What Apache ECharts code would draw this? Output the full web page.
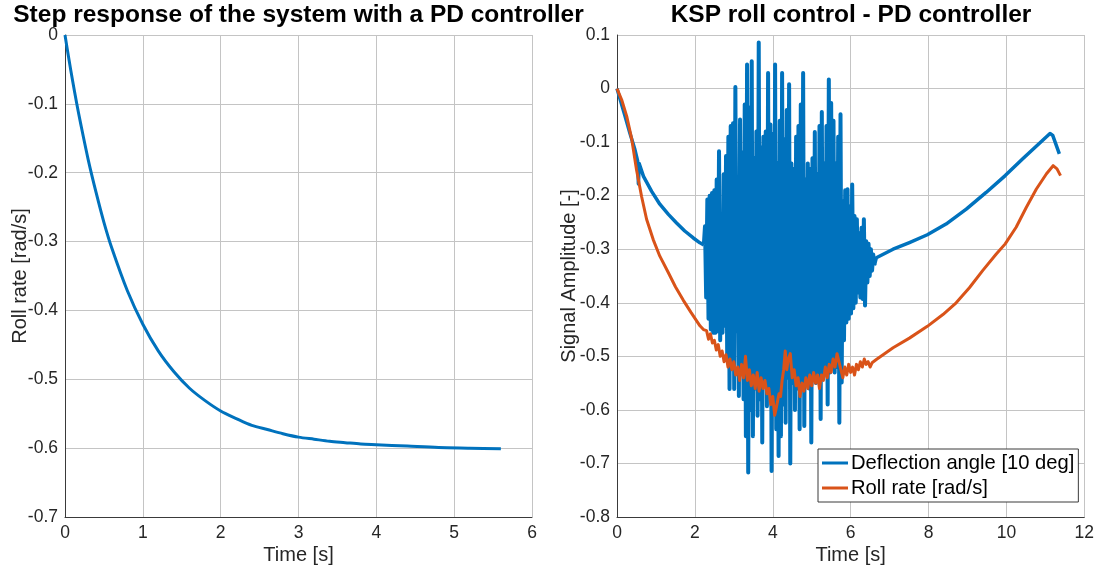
<!DOCTYPE html>
<html>
<head>
<meta charset="utf-8">
<script src="https://cdn.jsdelivr.net/npm/echarts@6/dist/echarts.min.js"></script>
<style>html,body{margin:0;padding:0;background:#fff}#c{width:1097px;height:572px}</style>
</head>
<body>
<div id="c"></div>
<script>
// ---- Left panel: step response ----
const stepTime  = [0, 0.05, 0.1, 0.15, 0.2, 0.3, 0.4, 0.5, 0.6, 0.8, 1.0, 1.2, 1.4, 1.6, 1.8, 2.0, 2.2, 2.4, 2.6, 2.8, 3.0, 3.2, 3.4, 3.6, 3.8, 4.0, 4.4, 4.8, 5.2, 5.6];
const stepValue = [0, -0.035, -0.068, -0.099, -0.128, -0.182, -0.229, -0.272, -0.309, -0.371, -0.420, -0.459, -0.489, -0.513, -0.531, -0.546, -0.557, -0.567, -0.573, -0.579, -0.584, -0.587, -0.590, -0.592, -0.594, -0.595, -0.597, -0.599, -0.600, -0.601];

// ---- Right panel: deflection angle ----
const deflPreTime  = [0, 0.08, 0.2, 0.33, 0.46, 0.53, 0.55, 0.57, 0.68, 0.89, 1.10, 1.32, 1.53, 1.74, 1.96, 2.13, 2.23];
const deflPreValue = [0, -0.02, -0.05, -0.083, -0.114, -0.135, -0.178, -0.14, -0.164, -0.192, -0.216, -0.235, -0.251, -0.266, -0.279, -0.288, -0.292];
// oscillating part: peaks sampled every 0.06 s from 2.26 s, troughs 0.03 s after each peak
const oscStart = 2.26, oscStep = 0.06;
const oscUpper = [-0.257,-0.207,-0.20,-0.195,-0.19,-0.17,-0.117,-0.24,-0.16,-0.126,-0.09,-0.07,-0.065,0.003,-0.2,-0.058,-0.12,-0.03,0.045,-0.036,0.051,-0.13,-0.08,0.086,-0.11,-0.09,-0.08,0.029,-0.067,-0.085,0.045,-0.14,-0.06,0.029,-0.095,-0.04,0.008,-0.14,-0.15,-0.09,-0.07,-0.03,0.029,-0.17,-0.14,-0.15,-0.13,-0.081,-0.16,-0.07,-0.044,-0.14,-0.07,0.017,-0.027,-0.06,-0.14,-0.09,-0.048,-0.21,-0.19,-0.188,-0.22,-0.179,-0.238,-0.244,-0.27,-0.26,-0.244,-0.285,-0.29,-0.30,-0.31];
const oscLower = [-0.39,-0.43,-0.45,-0.456,-0.456,-0.453,-0.47,-0.456,-0.443,-0.50,-0.561,-0.52,-0.561,-0.453,-0.574,-0.524,-0.58,-0.649,-0.717,-0.60,-0.649,-0.56,-0.611,-0.58,-0.661,-0.55,-0.593,-0.56,-0.714,-0.60,-0.636,-0.686,-0.649,-0.59,-0.624,-0.54,-0.70,-0.55,-0.60,-0.56,-0.636,-0.55,-0.63,-0.54,-0.56,-0.661,-0.54,-0.55,-0.53,-0.617,-0.54,-0.53,-0.59,-0.53,-0.52,-0.53,-0.52,-0.624,-0.549,-0.47,-0.437,-0.43,-0.42,-0.41,-0.40,-0.381,-0.39,-0.393,-0.405,-0.362,-0.35,-0.34,-0.33];
const deflPostTime  = [6.66, 7.09, 7.51, 7.97, 8.45, 8.97, 9.48, 9.97, 10.42, 10.85, 11.12, 11.19, 11.36];
const deflPostValue = [-0.316, -0.30, -0.2875, -0.273, -0.253, -0.225, -0.194, -0.1625, -0.131, -0.102, -0.084, -0.0875, -0.122];

// ---- Right panel: roll rate ----
const rollTime = [0, 0.12, 0.25, 0.38, 0.50, 0.63, 0.76, 0.93, 1.10, 1.32, 1.5, 1.7, 1.9, 2.13, 2.22,
  2.30, 2.35, 2.40, 2.45, 2.50, 2.55, 2.60, 2.65, 2.70, 2.75, 2.80, 2.85, 2.90, 2.95, 3.00, 3.05, 3.10, 3.15, 3.20, 3.25, 3.30, 3.35, 3.40, 3.45, 3.50, 3.55, 3.60, 3.65, 3.70, 3.75, 3.80, 3.85, 3.90, 3.95, 4.00, 4.05, 4.08, 4.12, 4.16, 4.20, 4.24, 4.28, 4.32, 4.36, 4.40, 4.45, 4.50, 4.55, 4.60, 4.65, 4.70, 4.75, 4.80, 4.85, 4.90, 4.95, 5.00, 5.05, 5.10, 5.15, 5.20, 5.25, 5.30, 5.35, 5.40, 5.45, 5.50, 5.55, 5.60, 5.65, 5.70, 5.75, 5.80, 5.85, 5.90, 5.95, 6.00, 6.05, 6.10, 6.15, 6.20, 6.25, 6.30, 6.35, 6.40, 6.45, 6.50, 6.55, 6.60,
  6.66, 7.09, 7.51, 7.97, 8.37, 8.71, 9.05, 9.39, 9.74, 9.97, 10.25, 10.51, 10.77, 11.03, 11.2, 11.3, 11.39];
const rollValue = [0, -0.021, -0.052, -0.095, -0.151, -0.201, -0.244, -0.282, -0.313, -0.344, -0.37, -0.395, -0.418, -0.443, -0.45,
  -0.452, -0.468, -0.458, -0.475, -0.47, -0.488, -0.478, -0.50, -0.49, -0.51, -0.497, -0.52, -0.505, -0.525, -0.51, -0.535, -0.52, -0.545, -0.515, -0.54, -0.50, -0.545, -0.525, -0.555, -0.535, -0.56, -0.53, -0.565, -0.54, -0.56, -0.545, -0.57, -0.56, -0.59, -0.575, -0.61, -0.60, -0.585, -0.57, -0.575, -0.545, -0.525, -0.49, -0.525, -0.505, -0.495, -0.54, -0.525, -0.555, -0.54, -0.575, -0.55, -0.565, -0.54, -0.56, -0.535, -0.555, -0.53, -0.55, -0.535, -0.56, -0.535, -0.545, -0.52, -0.54, -0.515, -0.53, -0.505, -0.52, -0.495, -0.51, -0.525, -0.54, -0.52, -0.535, -0.515, -0.53, -0.52, -0.535, -0.515, -0.525, -0.51, -0.52, -0.505, -0.515, -0.51, -0.52, -0.512, -0.51,
  -0.506, -0.484, -0.466, -0.444, -0.422, -0.40, -0.372, -0.34, -0.309, -0.29, -0.259, -0.222, -0.1875, -0.159, -0.144, -0.15, -0.1625];

const leftXTicks = {min: 0, max: 6, interval: 1};
const leftYTicks = {min: -0.7, max: 0, interval: 0.1};
const rightXTicks = {min: 0, max: 12, interval: 2};
const rightYTicks = {min: -0.8, max: 0.1, interval: 0.1};

const zip = (a, b) => a.map((v, i) => [v, b[i]]);
const deflSmooth1 = zip(deflPreTime, deflPreValue);
const oscData = [deflSmooth1[deflSmooth1.length - 1]];
for (let k = 0; k < oscUpper.length; k++) {
  oscData.push([+(oscStart + k * oscStep).toFixed(3), oscUpper[k]]);
  oscData.push([+(oscStart + k * oscStep + oscStep / 2).toFixed(3), oscLower[k]]);
}
const deflSmooth2 = [oscData[oscData.length - 1]].concat(zip(deflPostTime, deflPostValue));

const FONT = "'Liberation Sans', Arial, Helvetica, sans-serif";
const TXT = '#262626';
const GRIDC = '#c4c4c4';
const BLUE = '#0072BD', ORANGE = '#D95319';
const DEFL = 'Deflection angle [10 deg]', ROLL = 'Roll rate [rad/s]';

function xAx(idx, t) {
  return {
    type: 'value', gridIndex: idx, min: t.min, max: t.max, interval: t.interval,
    name: 'Time [s]', nameLocation: 'middle', nameGap: 28, nameMoveOverlap: false,
    nameTextStyle: {fontFamily: FONT, fontSize: 20, color: TXT},
    axisLine: {show: true, onZero: false, lineStyle: {color: '#3a3a3a', width: 1}},
    axisTick: {show: false},
    axisLabel: {fontFamily: FONT, fontSize: 17.5, color: TXT, margin: 7},
    splitLine: {show: true, lineStyle: {color: GRIDC, width: 1}}
  };
}
function yAx(idx, t, name, gap) {
  return {
    type: 'value', gridIndex: idx, min: t.min, max: t.max, interval: t.interval,
    name: name, nameLocation: 'middle', nameGap: gap, nameRotate: 90, nameMoveOverlap: false,
    nameTextStyle: {fontFamily: FONT, fontSize: 20, color: TXT},
    axisLine: {show: true, onZero: false, lineStyle: {color: '#3a3a3a', width: 1}},
    axisTick: {show: false},
    axisLabel: {fontFamily: FONT, fontSize: 17.5, color: TXT, margin: 7},
    splitLine: {show: true, lineStyle: {color: GRIDC, width: 1}}
  };
}
function lineSeries(name, xi, data, color, width, smooth) {
  return {name: name, type: 'line', xAxisIndex: xi, yAxisIndex: xi, data: data,
    smooth: smooth || false, showSymbol: false, symbol: 'none',
    lineStyle: {color: color, width: width, join: 'round'}, itemStyle: {color: color}};
}

const chart = echarts.init(document.getElementById('c'), null, {renderer: 'canvas'});
chart.setOption({
  animation: false,
  backgroundColor: '#fff',
  title: [
    {text: 'Step response of the system with a PD controller', left: 298.5, textAlign: 'center', top: 3, padding: 0,
     textStyle: {fontFamily: FONT, fontSize: 24.5, fontWeight: 'bold', color: '#000'}},
    {text: 'KSP roll control - PD controller', left: 851, textAlign: 'center', top: 3, padding: 0,
     textStyle: {fontFamily: FONT, fontSize: 24.5, fontWeight: 'bold', color: '#000'}}
  ],
  grid: [
    {left: 65, top: 35, width: 467, height: 482},
    {left: 617, top: 35, width: 468, height: 482}
  ],
  xAxis: [xAx(0, leftXTicks), xAx(1, rightXTicks)],
  yAxis: [yAx(0, leftYTicks, 'Roll rate [rad/s]', 35), yAx(1, rightYTicks, 'Signal Amplitude [-]', 38)],
  legend: {
    data: [DEFL, ROLL],
    orient: 'vertical', left: 818, top: 449,
    backgroundColor: '#fff', borderColor: '#3a3a3a', borderWidth: 1,
    padding: [4, 4, 4, 4], itemGap: 5, itemWidth: 26, itemHeight: 3,
    icon: 'rect',
    textStyle: {fontFamily: FONT, fontSize: 20.2, color: '#000', padding: [0, 0, 0, -2]}
  },
  series: [
    lineSeries(null, 0, zip(stepTime, stepValue), BLUE, 3, 0.3),
    lineSeries(DEFL, 1, deflSmooth1, BLUE, 3.5),
    lineSeries(DEFL, 1, oscData, BLUE, 4),
    lineSeries(DEFL, 1, deflSmooth2, BLUE, 3.5),
    lineSeries(ROLL, 1, zip(rollTime, rollValue), ORANGE, 3)
  ]
});
</script>
</body>
</html>
